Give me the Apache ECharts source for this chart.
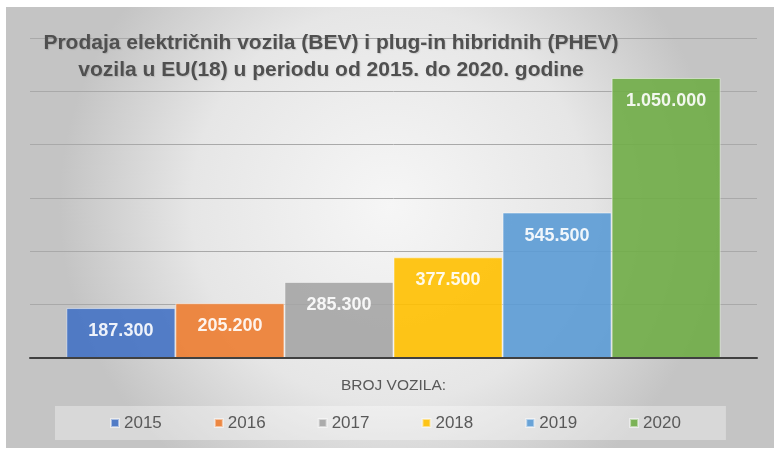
<!DOCTYPE html>
<html>
<head>
<meta charset="utf-8">
<script src="https://cdn.jsdelivr.net/npm/echarts@6/dist/echarts.min.js"></script>
<style>
html,body{margin:0;padding:0;background:#ffffff;}
#chart{width:774px;height:449px;}
</style>
</head>
<body>
<div id="chart"></div>
<script>
const years = ['2015', '2016', '2017', '2018', '2019', '2020'];
const values = [187300, 205200, 285300, 377500, 545500, 1050000];
const colors = ['#4472C4', '#ED7D31', '#A5A5A5', '#FFC000', '#5B9BD5', '#70AD47'];
const titleText = 'Prodaja električnih vozila (BEV) i plug-in hibridnih (PHEV)\nvozila u EU(18) u periodu od 2015. do 2020. godine';
const axisName = 'BROJ VOZILA:';
const categories = [''];
const yMax = 1200000;
const yInterval = 200000;

function fmt(v) {
  return String(v).replace(/\B(?=(\d{3})+(?!\d))/g, '.');
}

const chart = echarts.init(document.getElementById('chart'));
const series = years.map((y, i) => ({
  name: y,
  type: 'bar',
  data: [values[i]],
  barGap: '0%',
  barCategoryGap: '10%',
  itemStyle: {
    color: colors[i],
    opacity: 0.9,
    borderColor: 'rgba(255,255,255,0.55)',
    borderWidth: 1
  },
  label: {
    show: true,
    position: 'insideTop',
    distance: 14,
    color: '#ffffff',
    fontFamily: 'Liberation Sans, Arial, sans-serif',
    fontWeight: 'bold',
    fontSize: 18,
    formatter: p => fmt(p.value)
  },
  z: 2
}));

chart.setOption({
  animation: false,
  backgroundColor: 'transparent',
  graphic: [{
    type: 'rect',
    z: -100,
    silent: true,
    shape: { x: 6, y: 7, width: 768, height: 441 },
    style: {
      fill: {
        type: 'radial', x: 0.5, y: 0.45, r: 0.75,
        colorStops: [
          { offset: 0, color: '#f6f6f6' },
          { offset: 0.6, color: '#e6e6e6' },
          { offset: 1, color: '#c4c4c4' }
        ]
      }
    }
  }],
  title: {
    text: titleText,
    left: 331,
    top: 30,
    padding: 0,
    textAlign: 'center',
    textStyle: {
      fontFamily: 'Liberation Sans, Arial, sans-serif',
      fontWeight: 'bold',
      fontSize: 21,
      lineHeight: 27,
      color: '#505050',
      textShadowColor: 'rgba(0,0,0,0.12)',
      textShadowBlur: 1,
      textShadowOffsetX: 1,
      textShadowOffsetY: 1
    }
  },
  legend: {
    data: years,
    left: 55,
    top: 406,
    orient: 'horizontal',
    padding: [7, 45, 7, 55],
    backgroundColor: 'rgba(255,255,255,0.35)',
    itemWidth: 8,
    itemHeight: 8,
    itemGap: 52,
    icon: 'rect',
    textStyle: {
      fontFamily: 'Liberation Sans, Arial, sans-serif',
      fontSize: 17,
      lineHeight: 20,
      color: '#595959'
    }
  },
  grid: { left: 30, right: 17, top: 38, bottom: 91, containLabel: false },
  xAxis: {
    type: 'category',
    data: categories,
    name: axisName,
    nameLocation: 'middle',
    nameGap: 20,
    nameTextStyle: {
      fontFamily: 'Liberation Sans, Arial, sans-serif',
      fontSize: 15.5,
      color: '#595959'
    },
    axisLine: { show: true, lineStyle: { color: '#404040', width: 2 } },
    axisTick: { show: false },
    axisLabel: { show: false },
    z: 5
  },
  yAxis: {
    type: 'value',
    min: 0,
    max: yMax,
    interval: yInterval,
    axisLine: { show: false },
    axisTick: { show: false },
    axisLabel: { show: false },
    splitLine: { show: true, lineStyle: { color: '#a9a9a9', width: 1 } }
  },
  series: series
});
</script>
</body>
</html>
